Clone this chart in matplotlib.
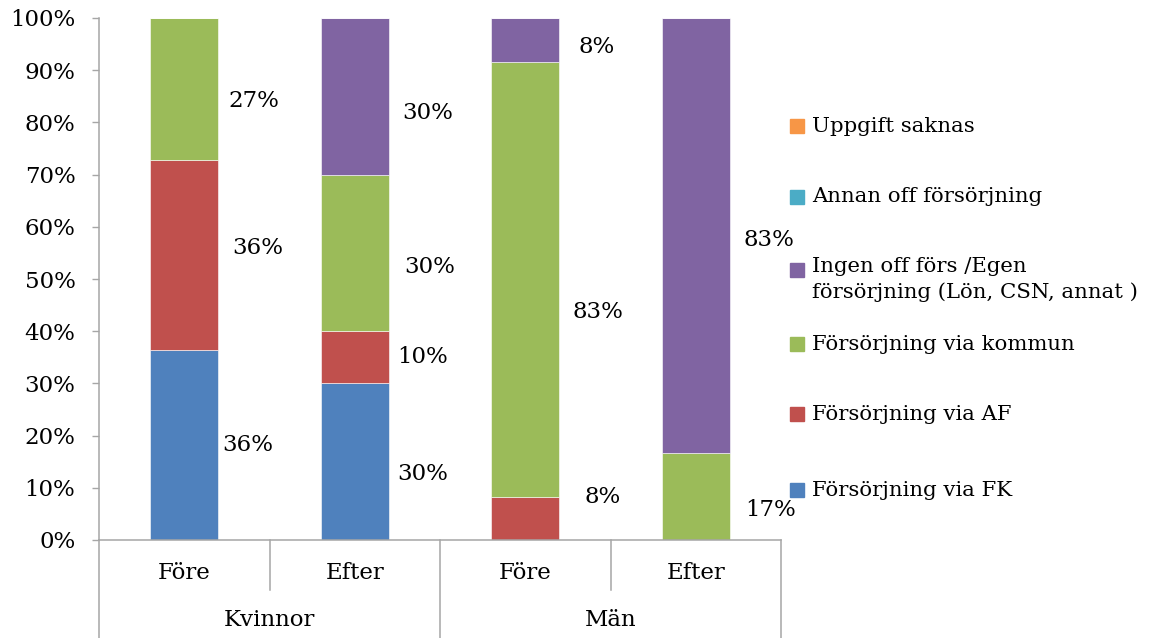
import numpy as np
import matplotlib.pyplot as plt
from matplotlib.patches import Rectangle
from matplotlib.lines import Line2D

plt.rcParams["font.family"] = ["DejaVu Serif"]

# share of each group (percent), Före/Efter for Kvinnor and Män
periods = ["Före", "Efter", "Före", "Efter"]
groups = ["Kvinnor", "Män"]

via_fk = [36.36, 30.0, 0.0, 0.0]
via_af = [36.36, 10.0, 8.33, 0.0]
via_kommun = [27.27, 30.0, 83.33, 16.67]
ingen_off = [0.0, 30.0, 8.33, 83.33]
annan_off = [0.0, 0.0, 0.0, 0.0]
saknas = [0.0, 0.0, 0.0, 0.0]

series_names = [
    "Försörjning via FK",
    "Försörjning via AF",
    "Försörjning via kommun",
    "Ingen off förs /Egen\nförsörjning (Lön, CSN, annat )",
    "Annan off försörjning",
    "Uppgift saknas",
]
series_vals = [via_fk, via_af, via_kommun, ingen_off, annan_off, saknas]
colors = ["#4F81BD", "#C0504D", "#9BBB59", "#8064A2", "#4BACC6", "#F79646"]

# label placement per bar: (series index, y in %, x offset from bar centre)
label_pos = [
    [(2, 84.1, 0.26), (1, 55.9, 0.28), (0, 18.2, 0.22)],
    [(3, 81.8, 0.28), (2, 52.3, 0.29), (1, 35.1, 0.25), (0, 12.6, 0.25)],
    [(3, 94.4, 0.31), (2, 43.7, 0.28), (1, 8.2, 0.35)],
    [(3, 57.5, 0.28), (2, 5.7, 0.29)],
]

W, H = 1151, 638
fig = plt.figure(figsize=(W / 100, H / 100), dpi=100)
ax = fig.add_axes([99 / W, (638 - 540) / H, (781 - 99) / W, 522 / H])

x = np.arange(len(periods))
bottom = np.zeros(len(periods))
for vals, col in zip(series_vals, colors):
    ax.bar(x, vals, width=0.4, bottom=bottom, color=col, edgecolor="white",
           linewidth=0.4)
    bottom += np.array(vals)

for i, labs in enumerate(label_pos):
    for s, ypos, dx in labs:
        ax.text(x[i] + dx, ypos, f"{series_vals[s][i]:.0f}%", ha="left",
                va="center", fontsize=16.5)

ax.set_xlim(-0.5, 3.5)
ax.set_ylim(0, 100)
ax.set_yticks(np.arange(0, 101, 10))
ax.set_yticklabels([f"{v}%" for v in range(0, 101, 10)])
ax.tick_params(axis="y", length=5, width=1, color="#A6A6A6", pad=12,
               labelsize=16.5)
ax.set_xticks([])
for side in ["top", "right"]:
    ax.spines[side].set_visible(False)
for side in ["left", "bottom"]:
    ax.spines[side].set_color("#A6A6A6")
    ax.spines[side].set_linewidth(1.1)

# two-level category axis
tr = ax.get_xaxis_transform()
for i, p in enumerate(periods):
    ax.text(x[i], -0.063, p, transform=tr, ha="center", va="center",
            fontsize=16.5)
for g, name in enumerate(groups):
    ax.text(2 * g + 0.5, -0.153, name, transform=tr, ha="center",
            va="center", fontsize=16.5)
for xb, depth in [(-0.5, -0.19), (0.5, -0.096), (1.5, -0.19), (2.5, -0.096),
                  (3.5, -0.19)]:
    ax.add_line(Line2D([xb, xb], [0, depth], transform=tr, color="#A6A6A6",
                       lw=1.1, clip_on=False))

# legend, top entry first
legend_y = [126, 197, 270, 344, 414, 490]
for k, (name, col) in enumerate(zip(series_names[::-1], colors[::-1])):
    ypx = legend_y[k]
    fig.patches.append(Rectangle((790 / W, (H - ypx - 7) / H), 14 / W, 14 / H,
                                 transform=fig.transFigure, color=col))
    if "\n" in name:
        fig.text(812 / W, (H - ypx + 13) / H, name, ha="left", va="top",
                 fontsize=15.3, linespacing=1.4)
    else:
        fig.text(812 / W, (H - ypx) / H, name, ha="left", va="center",
                 fontsize=15.3)

fig.savefig("out.png", dpi=100)
